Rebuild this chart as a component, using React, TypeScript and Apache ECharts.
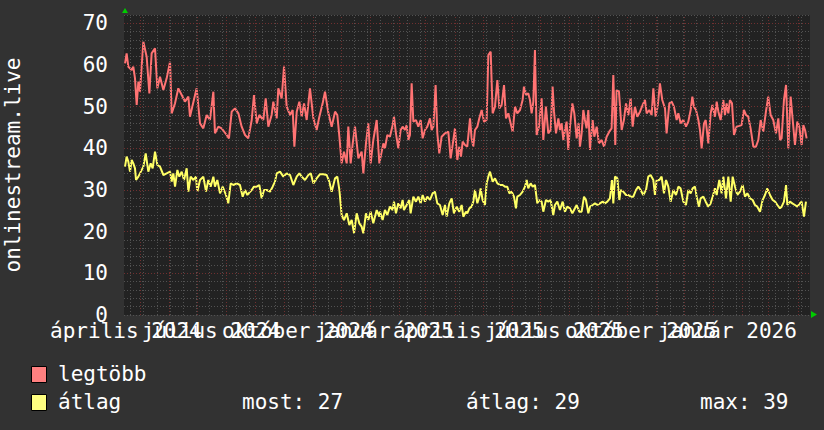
import React, { useEffect, useRef } from 'react';
import * as echarts from 'echarts';

const FONT = '"DejaVu Sans Mono", monospace';
const START_UTC = Date.UTC(2024, 3, 14);
const SPAN_DAYS = 730;
const Y_MAX = 72;
const DAY_MS = 86400000;

// [day since 2024-04-14, value]
const legtobbData: [number, number][] = [
  [1.1, 60.4], [2.8, 62.8], [4.6, 59.6], [8.2, 58.8], [9.9, 59.6], [11.7, 56.8], [13.5, 50.4], [15.3, 56], [17.0, 53.6],
  [20.6, 65.6], [24.1, 62], [27.0, 53.2], [29.4, 62.8], [33.0, 64], [35.5, 54.4], [38.3, 57.2], [41.9, 54], [45.4, 56.8],
  [49.0, 60.8], [50.7, 48.4], [54.3, 50.8], [57.8, 54.4], [61.4, 52.8], [64.9, 51.2], [68.5, 52.4], [70.2, 47.6], [73.1, 50.4],
  [77.3, 54.4], [80.9, 46], [84.4, 44.8], [88.0, 48], [91.5, 46.8], [95.1, 53.6], [96.8, 43.6], [100.4, 45.2], [103.9, 44.8],
  [109.3, 43.2], [111.7, 42.4], [114.6, 48.8], [118.1, 49.6], [121.7, 48.4], [125.2, 45.2], [128.8, 43.2], [132.3, 42.4],
  [135.9, 46.8], [138.3, 52.8], [141.2, 46], [144.0, 48], [148.3, 46.8], [150.8, 52], [153.6, 45.2], [157.1, 48], [158.9, 51.2],
  [162.5, 47.2], [164.2, 54.4], [167.8, 52], [170.3, 59.6], [173.1, 50], [176.7, 48], [179.5, 49.2], [181.3, 40.4], [183.8, 48.8],
  [186.6, 51.2], [189.1, 47.6], [191.6, 50.8], [194.4, 46.8], [197.9, 54.4], [201.5, 47.2], [205.0, 44.4], [207.9, 47.6],
  [211.4, 50.8], [213.9, 53.6], [217.5, 48.4], [221.0, 45.2], [224.6, 48.8], [227.0, 48], [229.2, 42.8], [231.6, 36.4],
  [234.1, 39.2], [237.0, 36.4], [238.7, 45.2], [241.2, 36.4], [243.4, 41.2], [245.8, 45.2], [249.4, 37.6], [252.9, 39.2],
  [254.7, 34], [257.5, 41.2], [260.0, 46], [262.5, 36.4], [265.3, 42], [268.9, 46.8], [271.7, 36.4],
  [272.4, 36.4], [276.0, 41.2], [277.7, 40], [280.2, 43.2], [283.0, 42.8], [285.9, 45.6], [287.3, 47.6], [289.4, 43.6],
  [291.9, 40], [294.4, 44.4], [296.5, 45.2], [299.0, 44.4], [300.8, 45.6], [302.6, 42], [304.3, 43.2], [306.1, 55.6],
  [307.9, 46.4], [310.7, 46.8], [313.2, 45.2], [315.7, 46.8], [317.8, 42.4], [320.3, 44.4], [322.8, 45.2], [325.6, 47.2],
  [327.4, 44.4], [329.2, 45.2], [331.6, 55.2], [333.4, 43.6], [335.5, 38.8], [338.0, 42.8], [341.6, 43.6], [345.1, 44],
  [347.6, 37.6], [349.7, 40.8], [352.2, 44.8], [354.7, 37.2], [356.8, 40.4], [358.6, 38], [360.4, 41.6], [362.9, 40.8],
  [365.3, 40.4], [368.2, 47.2], [369.9, 42.4], [371.7, 40.4], [373.5, 44.4], [376.0, 45.2], [378.1, 47.2], [380.6, 49.2],
  [383.1, 46.4], [385.9, 46.8], [387.7, 62.4], [390.2, 63.2], [392.3, 48.4], [394.8, 50], [397.3, 56.4], [399.4, 49.6],
  [401.9, 50.4], [404.4, 55.2], [406.5, 47.2], [409.0, 48.4], [411.4, 46], [413.6, 44], [416.1, 50], [418.5, 48.4],
  [421.4, 49.2], [424.2, 51.6], [425.6, 54.8], [427.8, 52.8], [430.2, 53.2], [432.0, 51.6], [433.8, 48.4], [435.6, 51.2],
  [437.3, 63.6], [439.1, 43.2], [441.6, 45.2], [444.4, 52], [446.2, 42], [449.0, 50], [451.5, 43.6], [454.0, 44.4],
  [456.1, 54.8], [457.6, 48.8], [459.7, 43.6], [462.2, 47.2], [463.9, 44.4], [465.7, 46], [467.5, 42], [469.3, 44.4],
  [471.0, 46.4], [472.8, 39.6], [474.6, 45.2], [477.1, 50.8], [479.2, 48.4], [481.7, 42.4], [483.8, 46], [485.2, 40.4],
  [487.0, 43.6], [488.8, 49.2], [490.5, 46.8], [492.3, 44.8], [494.1, 49.2], [495.9, 39.6], [498.7, 46.8], [500.5, 42.8],
  [503.0, 45.2], [505.4, 41.2], [508.3, 42], [510.8, 40.4], [513.6, 42.8], [516.4, 44], [518.9, 44.8], [520.7, 57.6],
  [522.8, 40.8], [524.2, 54], [526.7, 53.6], [529.6, 44.4], [532.0, 46.8], [534.2, 50.8], [536.7, 48], [539.1, 52],
  [541.3, 45.2], [543.7, 50], [546.2, 47.6], [549.1, 48.8], [551.9, 50.4], [554.4, 51.6], [556.2, 48.4], [559.0, 49.2],
  [561.5, 48], [563.3, 54.4], [565.7, 47.6], [567.9, 50], [570.3, 55.6], [572.8, 51.6], [575.7, 49.6], [577.4, 43.6],
  [580.3, 50.8], [582.8, 51.2], [585.2, 50], [588.1, 46.8], [589.9, 48.4], [592.3, 46], [595.2, 46.8], [598.0, 45.2],
  [600.5, 46.4], [603.0, 49.2], [604.8, 52.4], [606.5, 50], [608.7, 49.2], [611.2, 46.8], [612.9, 44.4], [614.7, 40],
  [617.2, 46], [619.0, 46.8], [621.8, 41.2], [624.3, 48.4], [626.1, 50.4], [628.9, 47.6], [630.7, 51.2], [632.5, 48.8],
  [634.9, 46.8], [637.8, 51.6], [639.5, 48], [641.3, 50.8], [643.1, 48.4], [644.8, 51.6], [647.0, 50.8], [649.1, 43.2],
  [651.9, 45.2], [654.8, 45.4], [657.2, 45.6], [659.7, 49.2], [661.9, 48], [664.3, 47.6], [666.8, 44.8], [669.7, 40.4],
  [672.5, 40.4], [675.0, 42], [677.5, 46.8], [680.3, 44], [683.1, 48.8], [685.6, 52.4], [688.1, 48], [690.9, 46.8],
  [693.8, 43.6], [696.3, 47.2], [698.0, 42], [699.8, 42.4], [702.3, 51.6], [704.5, 55.2], [706.9, 40], [709.4, 52.4],
  [711.6, 46.8], [714.0, 40.8], [716.5, 46.4], [718.6, 45.2], [721.1, 40.8], [722.9, 45.6], [724.7, 44.4], [726.4, 42.4],
];

const atlagData: [number, number][] = [
  [1.1, 35.6], [2.8, 38], [4.6, 36.8], [6.4, 34.4], [8.2, 37.2], [9.9, 36.4], [11.7, 35.2], [12.8, 32.4], [15.3, 33.2],
  [17.0, 34], [20.6, 35.6], [23.1, 38.8], [25.9, 34.4], [28.4, 36.4], [30.5, 35.2], [33.0, 39.2], [35.5, 36], [38.3, 35.6],
  [41.9, 33.6], [45.4, 34], [49.0, 34.4], [50.7, 32], [52.5, 34], [54.3, 30.8], [56.8, 34.8], [58.9, 33.2], [61.4, 34.4],
  [63.9, 32.4], [66.7, 35.2], [68.5, 29.6], [70.9, 33.2], [73.8, 32.4], [76.6, 33.2], [78.0, 29.6], [80.9, 32.4], [84.4, 33.2],
  [87.3, 29.6], [89.7, 32.4], [92.2, 30.8], [95.1, 33.2], [96.8, 30.8], [99.3, 32.4], [102.2, 29.2], [105.0, 30.8],
  [108.5, 28.8], [111.0, 26.8], [113.5, 31.6], [116.4, 31.2], [119.9, 31.6], [123.4, 31.2], [126.3, 28.4], [128.8, 30],
  [131.3, 28.8], [134.1, 29.6], [135.9, 30], [138.3, 30.8], [141.2, 30.8], [144.0, 31.2], [146.5, 28], [149.0, 30],
  [151.8, 30], [155.4, 29.6], [158.2, 30.8], [160.7, 32], [162.5, 34], [166.0, 34.4], [169.6, 33.2], [173.1, 34],
  [176.7, 33.6], [180.2, 31.2], [183.8, 33.2], [186.6, 34], [189.1, 33.2], [192.6, 32.4], [196.2, 33.6], [198.7, 34],
  [201.5, 31.6], [205.0, 32.8], [208.6, 33.8], [212.1, 33.8], [215.7, 33.6], [218.5, 32], [221.0, 29.6], [224.6, 32.8],
  [227.0, 33.2], [229.2, 30], [231.6, 24], [234.1, 22.8], [237.0, 24.4], [239.8, 21.6], [242.3, 22.8], [244.8, 19.6],
  [247.6, 24.4], [250.4, 22], [252.9, 21.2], [254.7, 19.6], [257.5, 24.4], [260.0, 22.8], [262.5, 24.8], [265.3, 22],
  [268.9, 25.2], [271.7, 23.6],
  [272.4, 24.8], [275.2, 22.8], [277.7, 25.2], [280.2, 24], [283.0, 26], [285.9, 25.2], [287.3, 27.2], [289.4, 24.4],
  [291.9, 26.8], [294.4, 25.6], [296.5, 27.6], [297.9, 25.2], [300.8, 26.4], [303.6, 27.6], [305.0, 24.4], [307.9, 28.4],
  [310.7, 27.2], [313.2, 28.4], [315.7, 26.8], [317.8, 28.8], [320.3, 27.2], [322.8, 28.4], [325.6, 27.6], [328.4, 29.2],
  [330.9, 29.6], [333.4, 26.8], [336.2, 26.4], [339.1, 24], [341.6, 26.4], [343.4, 23.6], [346.2, 26.8], [348.7, 28],
  [351.1, 24.4], [354.0, 26], [356.8, 24.8], [359.3, 26.4], [361.1, 23.6], [363.9, 24.8], [365.3, 24.4], [367.5, 25.6],
  [369.9, 26], [371.7, 27.2], [373.5, 30], [376.0, 26.8], [378.1, 28.4], [379.5, 30.4], [381.6, 27.6], [384.1, 26.4],
  [385.9, 31.6], [387.7, 33.2], [389.5, 34.4], [392.3, 32], [394.8, 32.8], [397.3, 31.6], [400.1, 31.2], [402.9, 31.2],
  [405.4, 30.8], [407.9, 30.8], [410.0, 29.2], [412.5, 29.6], [415.0, 28.4], [417.1, 25.6], [418.5, 28.4], [421.4, 28.8],
  [424.2, 29.6], [426.7, 30.8], [428.5, 32.4], [430.2, 30.4], [432.7, 31.6], [434.9, 30.8], [437.3, 31.2], [439.8, 26.8],
  [441.9, 27.6], [444.4, 27.2], [446.2, 24.8], [449.0, 27.6], [451.5, 27.2], [454.0, 27.6], [456.8, 24], [458.6, 26.4],
  [461.1, 27.2], [463.9, 25.2], [466.8, 27.2], [469.3, 24.8], [471.7, 26], [474.6, 25.6], [477.1, 24.4], [479.9, 25.6],
  [481.7, 26.4], [484.5, 24.8], [487.0, 24.8], [489.5, 28.4], [491.6, 27.6], [494.1, 24.4], [495.9, 26], [498.7, 26.4],
  [501.2, 26.8], [503.7, 26.4], [506.5, 26.8], [509.3, 27.2], [511.8, 26.8], [514.3, 27.2], [517.1, 28], [519.3, 32.4],
  [520.7, 26.8], [522.5, 33.2], [525.0, 32.8], [527.1, 27.6], [528.5, 30], [531.3, 29.6], [534.2, 28.8], [536.7, 28.8],
  [539.1, 28.4], [542.0, 28.4], [544.8, 30], [547.3, 30.8], [549.8, 30], [552.6, 28.8], [555.5, 30], [557.9, 33.2],
  [560.4, 33.6], [563.3, 32.4], [565.0, 28.8], [566.8, 32.4], [569.7, 32.4], [572.1, 33.2], [574.6, 29.2], [576.8, 32.4],
  [579.2, 30.8], [581.7, 27.2], [584.6, 30], [587.4, 28.8], [589.9, 30.8], [592.3, 30.4], [595.2, 27.2], [598.0, 26.4],
  [600.5, 30], [603.0, 29.2], [605.1, 30.4], [607.6, 30.8], [609.4, 28.4], [611.9, 26], [613.6, 28], [616.5, 28.4],
  [619.0, 27.2], [621.8, 26], [624.3, 26.8], [626.4, 28.4], [628.9, 30.4], [630.7, 28.8], [633.5, 32.4], [636.0, 29.2],
  [637.8, 33.2], [640.6, 28], [643.1, 33.2], [645.6, 27.2], [647.7, 33.2], [650.2, 30.8], [652.7, 28.8], [655.5, 29.6],
  [658.3, 31.2], [660.8, 28.4], [663.3, 29.2], [666.1, 28], [669.0, 27.6], [671.4, 26.4], [673.9, 26], [676.8, 24.8],
  [679.6, 27.6], [682.1, 28.8], [684.6, 30.4], [687.4, 28.8], [690.3, 27.6], [692.8, 27.2], [695.3, 26.4], [698.0, 25.6],
  [699.8, 26], [702.3, 27.2], [704.5, 31.2], [705.9, 26.4], [708.7, 27.2], [711.2, 26.8], [714.0, 26.4], [716.5, 26],
  [719.3, 26.8], [721.1, 27.2], [723.6, 23.6], [725.7, 27.2],
];

// x-axis labels: [year, monthIndex, text]
const xLabels: [number, number, string][] = [
  [2024, 3, 'április 2024'],
  [2024, 6, 'július 2024'],
  [2024, 9, 'október 2024'],
  [2025, 0, 'január 2025'],
  [2025, 3, 'április 2025'],
  [2025, 6, 'július 2025'],
  [2025, 9, 'október 2025'],
  [2026, 0, 'január 2026'],
];

const yTitle = 'onlinestream.live';
const seriesNames = ['legtöbb', 'átlag'];
const statMost = 27;
const statAtlag = 29;
const statMax = 39;

const dayOf = (y: number, m: number, d: number) => (Date.UTC(y, m, d) - START_UTC) / DAY_MS;

export default function App() {
  const ref = useRef<HTMLDivElement>(null);
  useEffect(() => {
    if (!ref.current) return;
    const chart = echarts.init(ref.current, undefined, { renderer: 'svg' });

    const monthDays: number[] = [];
    for (let k = 0; k < 30; k++) {
      const d = dayOf(2024, 4 + k, 1);
      if (d > 0 && d < SPAN_DAYS) monthDays.push(d);
    }
    const minorDays: number[] = [];
    for (let d = 7; d < SPAN_DAYS; d += 14) minorDays.push(d);
    const labelDays = xLabels.map(([y, m]) => dayOf(y, m, 1) + 15);

    const txt = { color: '#ffffff', fontFamily: FONT, fontSize: 21 };
    const minorColor = '#525252';
    const majorColor = '#703030';

    const makeXAxis = (parity: number) => {
      const vals = labelDays.filter((_, i) => i % 2 === parity);
      return {
        type: 'value', min: 0, max: SPAN_DAYS, position: 'bottom', offset: 0, gridIndex: 0,
        axisLine: { show: false }, axisTick: { show: false }, splitLine: { show: false },
        axisLabel: {
          customValues: vals,
          hideOverlap: false,
          showMinLabel: true,
          showMaxLabel: true,
          margin: 5,
          ...txt,
          formatter: (v: number) => {
            const i = labelDays.findIndex((d) => Math.abs(d - v) < 0.01);
            return i >= 0 ? xLabels[i][2] : '';
          },
        },
      };
    };

    chart.setOption({
      animation: false,
      backgroundColor: '#323232',
      grid: { left: 124, top: 15, width: 686, height: 300, show: true, backgroundColor: '#222222', borderWidth: 0 },
      xAxis: [makeXAxis(0), makeXAxis(1)],
      yAxis: {
        type: 'value', min: 0, max: Y_MAX, interval: 2,
        axisLine: { show: false }, axisTick: { show: false },
        splitLine: { show: true, lineStyle: { color: minorColor, type: [1, 2], width: 1 } },
        axisLabel: { ...txt, margin: 16, formatter: (v: number) => (v % 10 === 0 && v <= 70 ? String(v) : '') },
      },
      series: [
        {
          type: 'line', data: [], z: 1, silent: true, xAxisIndex: 0,
          markLine: {
            silent: true, symbol: 'none', animation: false, label: { show: false },
            emphasis: { disabled: true },
            lineStyle: { color: minorColor, type: [1, 2], width: 1 },
            data: minorDays.map((d) => ({ xAxis: d })),
          },
        },
        {
          type: 'line', data: [], z: 1, silent: true, xAxisIndex: 0,
          markLine: {
            silent: true, symbol: 'none', animation: false, label: { show: false },
            emphasis: { disabled: true },
            lineStyle: { color: majorColor, type: [1, 2], width: 1 },
            data: [
              ...monthDays.map((d) => ({ xAxis: d })),
              ...[10, 20, 30, 40, 50, 60, 70].map((v) => ({ yAxis: v })),
            ],
          },
        },
        {
          name: seriesNames[0], type: 'line', data: legtobbData, showSymbol: false, z: 3, xAxisIndex: 0,
          lineStyle: { color: '#ff7373', width: 2 }, itemStyle: { color: '#ff7373' },
        },
        {
          name: seriesNames[1], type: 'line', data: atlagData, showSymbol: false, z: 3, xAxisIndex: 0,
          lineStyle: { color: '#ffff66', width: 2 }, itemStyle: { color: '#ffff66' },
        },
      ],
      graphic: [
        { type: 'polygon', shape: { points: [[122, 13], [128, 13], [125, 8]] }, style: { fill: '#00cc00' } },
        { type: 'polygon', shape: { points: [[811, 311], [811, 318], [817, 314.5]] }, style: { fill: '#00cc00' } },
        {
          type: 'text', x: 13, y: 165, rotation: Math.PI / 2,
          style: { text: yTitle, fill: '#ffffff', font: `21px ${FONT}`, align: 'center', verticalAlign: 'middle' },
        },
        { type: 'rect', shape: { x: 31.5, y: 366.5, width: 15, height: 16 }, style: { fill: '#ff8080', stroke: '#000', lineWidth: 1 } },
        { type: 'text', x: 58, y: 374, style: { text: seriesNames[0], fill: '#fff', font: `21px ${FONT}`, verticalAlign: 'middle' } },
        { type: 'rect', shape: { x: 31.5, y: 394.5, width: 15, height: 16 }, style: { fill: '#ffff80', stroke: '#000', lineWidth: 1 } },
        { type: 'text', x: 58, y: 402, style: { text: seriesNames[1], fill: '#fff', font: `21px ${FONT}`, verticalAlign: 'middle' } },
        { type: 'text', x: 242, y: 402, style: { text: `most: ${statMost}`, fill: '#fff', font: `21px ${FONT}`, verticalAlign: 'middle' } },
        { type: 'text', x: 466, y: 402, style: { text: `átlag: ${statAtlag}`, fill: '#fff', font: `21px ${FONT}`, verticalAlign: 'middle' } },
        { type: 'text', x: 700, y: 402, style: { text: `max: ${statMax}`, fill: '#fff', font: `21px ${FONT}`, verticalAlign: 'middle' } },
      ],
    });
    return () => chart.dispose();
  }, []);
  return <div ref={ref} style={{ position: 'fixed', left: 0, top: 0, width: 824, height: 430 }} />;
}
